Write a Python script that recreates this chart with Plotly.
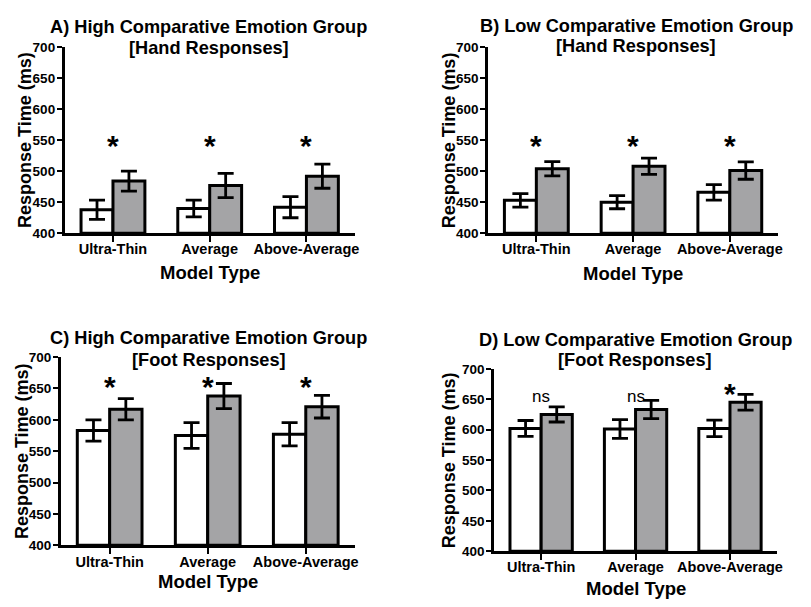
import plotly.graph_objects as go

W, H = 811, 607

categories = ["Ultra-Thin", "Average", "Above-Average"]

# Panel A: High group, hand responses
a_white = [438, 440, 442]
a_white_err = [15.5, 13.5, 17]
a_gray = [484, 477, 492]
a_gray_err = [16, 19.5, 19.5]
a_marks = ["*", "*", "*"]
a_mark_y = [542, 542, 542]

# Panel B: Low group, hand responses
b_white = [453, 450, 466]
b_white_err = [11, 10.5, 12.5]
b_gray = [504, 508, 501]
b_gray_err = [11.5, 13, 14]
b_marks = ["*", "*", "*"]
b_mark_y = [542, 542, 542]

# Panel C: High group, foot responses
c_white = [583, 575, 577]
c_white_err = [17, 20.5, 18.5]
c_gray = [617, 638, 621]
c_gray_err = [17, 20, 18]
c_marks = ["*", "*", "*"]
c_mark_y = [653, 653, 653]

# Panel D: Low group, foot responses
d_white = [602, 601, 602]
d_white_err = [13, 15.5, 13.5]
d_gray = [625, 633, 645]
d_gray_err = [12.5, 15, 13]
d_marks = ["ns", "ns", "*"]
d_mark_y = [654, 654, 660]

title_line1 = [
    "A) High Comparative Emotion Group",
    "B) Low Comparative Emotion Group",
    "C) High Comparative Emotion Group",
    "D) Low Comparative Emotion Group",
]
title_line2 = [
    "[Hand Responses]",
    "[Hand Responses]",
    "[Foot Responses]",
    "[Foot Responses]",
]
y_ticks = [400, 450, 500, 550, 600, 650, 700]
y_title = "Response Time (ms)"
x_title = "Model Type"

FONT = "Liberation Sans, Arial, sans-serif"
GRAY = "#a4a4a6"

# pixel boxes for each panel: x0, x1, ytop, ybottom
boxes = [
    (65, 357, 41, 232),
    (491, 783, 41, 232),
    (61, 357, 359, 552),
    (497, 782, 371, 558),
]
title_cx = [210, 640, 210, 639]
title_y1 = [21, 19, 339, 341]
title_y2 = [42, 40, 362, 362]
xtitle_y = [272, 273, 589, 596]
ytitle_x = [25, 452, 22, 452]

panels = [
    (a_white, a_white_err, a_gray, a_gray_err, a_marks, a_mark_y),
    (b_white, b_white_err, b_gray, b_gray_err, b_marks, b_mark_y),
    (c_white, c_white_err, c_gray, c_gray_err, c_marks, c_mark_y),
    (d_white, d_white_err, d_gray, d_gray_err, d_marks, d_mark_y),
]

fig = go.Figure()
annotations = []
xs = [0, 1, 2]


def bold(size):
    return dict(family=FONT, size=size, color="black", weight="bold")


for i, (wv, we, gv, ge, marks, my) in enumerate(panels):
    n = "" if i == 0 else str(i + 1)
    xa, ya = "x" + n, "y" + n
    for vals, errs, col in ((wv, we, "white"), (gv, ge, GRAY)):
        fig.add_trace(go.Bar(
            x=xs, y=[v - 400 for v in vals], base=400,
            xaxis=xa, yaxis=ya,
            marker=dict(color=col, line=dict(color="black", width=3)),
            error_y=dict(type="data", array=errs, color="black",
                         thickness=2.8, width=8),
            showlegend=False,
        ))
    x0, x1, yt, yb = boxes[i]
    fig.layout["xaxis" + n] = dict(
        domain=[x0 / W, x1 / W], anchor=ya, range=[-0.5, 2.5],
        tickmode="array", tickvals=xs, ticktext=categories,
        showline=True, linecolor="black", linewidth=2.5,
        ticks="outside", ticklen=6, tickwidth=2, tickcolor="black",
        ticklabelstandoff=-5,
        tickfont=bold(14.5),
        showgrid=False, zeroline=False, fixedrange=True,
    )
    fig.layout["yaxis" + n] = dict(
        domain=[1 - yb / H, 1 - yt / H], anchor=xa, range=[400, 700],
        tickmode="array", tickvals=y_ticks,
        showline=True, linecolor="black", linewidth=2.5,
        ticks="outside", ticklen=5, tickwidth=2, tickcolor="black",
        ticklabelstandoff=-1,
        tickfont=bold(13.5),
        showgrid=False, zeroline=False, fixedrange=True,
    )
    # significance marks
    for k, (m, yv) in enumerate(zip(marks, my)):
        annotations.append(dict(
            x=k, y=yv, xref=xa, yref=ya, text=m, showarrow=False,
            font=dict(family=FONT, size=30 if m == "*" else 17, color="black",
                      weight="bold" if m == "*" else "normal"),
            xanchor="center", yanchor="middle",
        ))
    # panel title (two lines)
    for txt, ty in ((title_line1[i], title_y1[i]), (title_line2[i], title_y2[i])):
        annotations.append(dict(
            x=title_cx[i] / W, y=1 - ty / H, xref="paper", yref="paper",
            text=txt, showarrow=False, font=bold(18.2),
            xanchor="center", yanchor="middle",
        ))
    # axis titles
    annotations.append(dict(
        x=(x0 + x1) / 2 / W, y=1 - xtitle_y[i] / H, xref="paper", yref="paper",
        text=x_title, showarrow=False, font=bold(18.5),
        xanchor="center", yanchor="middle",
    ))
    annotations.append(dict(
        x=ytitle_x[i] / W, y=1 - (yt + yb) / 2 / H, xref="paper", yref="paper",
        text=y_title, showarrow=False, textangle=-90, font=bold(18),
        xanchor="center", yanchor="middle",
    ))

fig.update_layout(
    width=W, height=H, margin=dict(l=0, r=0, t=0, b=0),
    paper_bgcolor="white", plot_bgcolor="white",
    barmode="group", bargap=0.34, bargroupgap=0,
    annotations=annotations, showlegend=False,
)

fig.write_html(
    "out.html", config={"displayModeBar": False},
    post_script="document.body.style.margin='0';document.body.style.padding='0';"
                "document.body.style.overflow='hidden';",
)
